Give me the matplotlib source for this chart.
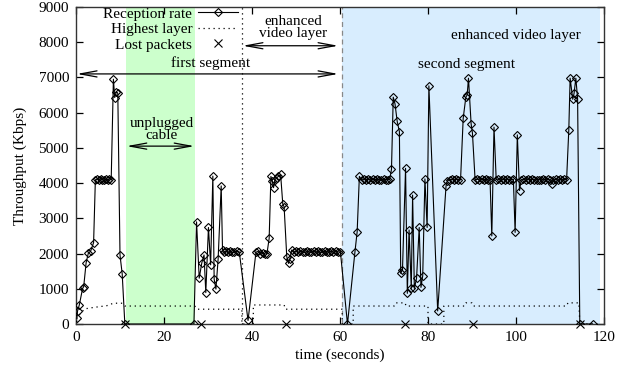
import matplotlib
matplotlib.use("Agg")
import matplotlib.pyplot as plt

plt.rcParams['font.family'] = ['Liberation Serif', 'DejaVu Serif']

# Reception rate samples (time s, Kbps)
rx_time = [0.2, 0.35, 0.75, 1.5, 1.75, 2.3, 2.8, 3.3, 4.0, 4.4, 4.8, 5.2, 5.6, 6.0, 6.4, 6.8, 7.2, 7.6, 8.0,
           8.5, 8.8, 9.2, 9.5, 10.0, 10.5, 11.1,
           26.8, 27.4, 28.0, 28.6, 29.1, 29.5, 30.1, 30.6, 31.1, 31.4, 31.8, 32.3, 33.0, 33.3,
           33.7, 34.1, 34.5, 35.0, 35.5, 36.0, 36.5, 37.1, 39.1,
           40.9, 41.4, 41.9, 42.4, 42.9, 43.4, 43.9, 44.3, 44.6, 44.9, 45.2, 45.6, 46.0, 46.5,
           47.0, 47.3, 47.9, 48.3, 48.6, 49.0, 49.5,
           50.0, 50.5, 51.0, 51.5, 52.0, 52.5, 53.0, 53.5, 54.0, 54.5, 55.0, 55.5, 56.0, 56.5,
           57.0, 57.5, 58.0, 58.5, 59.0, 59.5, 60.1, 61.7,
           63.4, 63.9, 64.4, 64.9, 65.4, 65.9, 66.4, 66.9, 67.4, 67.9, 68.4, 68.9, 69.4, 69.9,
           70.4, 70.9, 71.3, 71.7, 72.1, 72.5, 73.0, 73.5, 73.8, 74.2, 74.9, 75.3, 75.7, 76.2,
           76.5, 76.9, 77.4, 78.0, 78.4, 78.8, 79.3, 79.8, 80.2, 82.2, 84.1, 84.4, 84.9, 85.4,
           85.9, 86.4, 86.9, 87.4, 88.0, 88.6, 88.9, 89.2, 89.8, 90.1, 90.7, 91.2, 91.7, 92.2,
           92.7, 93.2, 93.7, 94.1, 94.5, 95.0, 95.5, 96.0, 96.5, 97.0, 97.5, 98.0, 98.5, 99.0,
           99.4, 99.8, 100.3, 100.8, 101.2, 101.7, 102.2, 102.7, 103.2, 103.7, 104.2, 104.7,
           105.2, 105.7, 106.2, 106.7, 107.2, 107.7, 108.1, 108.5, 109.0, 109.5, 110.0, 110.5,
           111.0, 111.5, 112.0, 112.3, 112.9, 113.2, 113.6, 114.0, 114.5, 117.4]
rx_rate = [160, 370, 540, 1010, 1060, 1740, 2010, 2060, 2310, 4090, 4120, 4100, 4120, 4100, 4090, 4110, 4100, 4120, 4100,
           6950, 6430, 6600, 6550, 1960, 1420, 0,
           0, 2900, 1300, 1740, 1960, 890, 2740, 1680, 4200, 1270, 990, 1840, 3920, 2100,
           2050, 2070, 2040, 2060, 2030, 2050, 2070, 2050, 100,
           2040, 2060, 2000, 2020, 1980, 2000, 2430, 4190, 4050, 3870, 4100, 4150, 4190, 4250,
           3400, 3330, 1910, 1720, 1850, 2100, 2050,
           2060, 2040, 2070, 2050, 2030, 2060, 2050, 2040, 2070, 2050, 2060, 2030, 2050, 2070,
           2040, 2050, 2060, 2040, 2070, 2050, 2040, 0,
           2050, 2620, 4190, 4100, 4120, 4100, 4110, 4090, 4120, 4100, 4110, 4100, 4090, 4120,
           4100, 4100, 4110, 4390, 6440, 6250, 5750, 5460, 1440, 1540, 4420, 870, 2670, 1010,
           3660, 1010, 1300, 2740, 1040, 1370, 4120, 2740, 6760, 370, 3920, 4060, 4100, 4110,
           4090, 4120, 4100, 4100, 5840, 6440, 6500, 6980, 5680, 5420, 4100, 4110, 4090, 4120,
           4100, 4110, 4090, 4100, 2500, 5590, 4100, 4120, 4090, 4110, 4100, 4120, 4090, 4100,
           4110, 2600, 5370, 3790, 4100, 4110, 4090, 4120, 4100, 4110, 4090, 4100,
           4100, 4090, 4110, 4100, 4120, 4090, 3970, 4100, 4110, 4090, 4120, 4100,
           4110, 4100, 5510, 6980, 6380, 6550, 6980, 6400, 0, 0]

# Highest layer (Kbps)
layer_time = [0, 1, 2, 4, 7, 8.5, 10.5, 11.1, 27.0, 27.5, 37.7, 37.7, 40.3, 40.3, 47.3, 47.6, 60.5, 60.5,
              63.0, 63.0, 72.3, 72.6, 74.8, 75.0, 80.0, 80.0, 83.6, 83.6, 88.3, 88.6, 90.0, 90.3,
              111.5, 111.8, 114.3, 114.5, 119.0]
layer_rate = [150, 300, 430, 470, 520, 590, 590, 510, 510, 420, 420, 0, 0, 540, 540, 420, 420, 0,
              0, 510, 510, 600, 600, 510, 510, 0, 0, 510, 510, 600, 600, 510,
              510, 600, 600, 0, 0]

# Lost packets
lost_time = [11.1, 28.4, 47.7, 74.8, 90.2, 114.5]
lost_rate = [0, 0, 0, 0, 0, 0]

xticks = [0, 20, 40, 60, 80, 100, 120]
yticks = [0, 1000, 2000, 3000, 4000, 5000, 6000, 7000, 8000, 9000]

fig = plt.figure(figsize=(6.26, 3.70), dpi=100)
ax = fig.add_axes([76/626, 46/370, 528/626, 317/370])

ax.axvspan(11.4, 27.0, color='#ccffcc', lw=0, zorder=0)
ax.axvspan(60.5, 119.2, color='#d8edfe', lw=0, zorder=0)
ax.axvline(37.7, color='black', ls=(0, (1, 3)), lw=0.9, zorder=1)
ax.axvline(60.5, color='#888888', ls=(0, (4, 3)), lw=0.9, zorder=1)

ax.plot(rx_time, rx_rate, color='black', lw=0.8, marker='D', ms=4.2, mfc='none',
        mec='black', mew=0.8, label='Reception rate', zorder=3)
ax.plot(layer_time, layer_rate, color='black', ls=(0, (1, 3)), lw=0.9, label='Highest layer', zorder=2)
ax.plot(lost_time, lost_rate, ls='none', marker='x', ms=6, mew=0.8, color='black',
        label='Lost packets', zorder=4, clip_on=False)

arrow = dict(arrowstyle='<->,head_length=1.2,head_width=0.22', color='black', lw=0.9,
             shrinkA=0, shrinkB=0)
ax.annotate('', xy=(0.2, 7100), xytext=(59.6, 7100), arrowprops=arrow)
ax.annotate('', xy=(37.9, 7900), xytext=(59.6, 7900), arrowprops=arrow)
ax.annotate('', xy=(11.5, 5050), xytext=(26.9, 5050), arrowprops=arrow)

fs = 11
ax.text(30.5, 7400, 'first segment', ha='center', va='center', fontsize=fs)
ax.text(19.4, 5520, 'unplugged\ncable', ha='center', va='center', fontsize=fs, linespacing=0.9)
ax.text(49.3, 8420, 'enhanced\nvideo layer', ha='center', va='center', fontsize=fs, linespacing=0.9)
ax.text(100.0, 8180, 'enhanced video layer', ha='center', va='center', fontsize=fs)
ax.text(88.7, 7380, 'second segment', ha='center', va='center', fontsize=fs)

ax.set_xlim(0, 120)
ax.set_ylim(0, 9000)
ax.set_xticks(xticks)
ax.set_yticks(yticks)
ax.tick_params(direction='in', top=True, right=True, length=5, width=0.9, labelsize=11, pad=5)
for s in ax.spines.values():
    s.set_linewidth(1.0)
    s.set_color('#333333')
ax.set_xlabel('time (seconds)', fontsize=11, labelpad=3)
ax.set_ylabel('Throughput (Kbps)', fontsize=11, labelpad=8)

leg = ax.legend(loc='upper right', bbox_to_anchor=(238/626, 363/370), bbox_transform=fig.transFigure,
                frameon=False, markerfirst=False, fontsize=fs, handlelength=2.6,
                labelspacing=0.12, borderpad=0, borderaxespad=0, handletextpad=0.4)

fig.savefig('out.png', dpi=100)
